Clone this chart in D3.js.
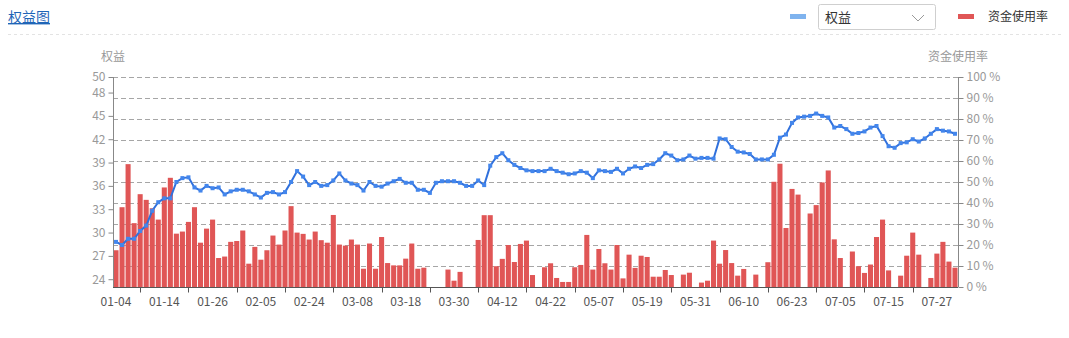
<!DOCTYPE html>
<html>
<head>
<meta charset="utf-8">
<script src="https://cdn.jsdelivr.net/npm/d3@7"></script>
<style>
  body { margin: 0; background: #fff; }
  text { font-family: "Microsoft YaHei", "Noto Sans CJK SC", sans-serif; }
</style>
</head>
<body>
<div class="equity-chart"></div>
<script>
const dates = [
  "01-04","01-05","01-06","01-07","01-08","01-11","01-12","01-13","01-14","01-15",
  "01-18","01-19","01-20","01-21","01-22","01-25","01-26","01-27","01-28","01-29",
  "02-01","02-02","02-03","02-04","02-05","02-08","02-09","02-10","02-18","02-19",
  "02-22","02-23","02-24","02-25","02-26",
  "03-01","03-02","03-03","03-04","03-05","03-08","03-09","03-10","03-11","03-12",
  "03-15","03-16","03-17","03-18","03-19","03-22","03-23","03-24","03-25","03-26",
  "03-29","03-30","03-31",
  "04-01","04-02","04-06","04-07","04-08","04-09","04-12","04-13","04-14","04-15",
  "04-16","04-19","04-20","04-21","04-22","04-23","04-26","04-27","04-28","04-29","04-30",
  "05-06","05-07","05-10","05-11","05-12","05-13","05-14","05-17","05-18","05-19",
  "05-20","05-21","05-24","05-25","05-26","05-27","05-28","05-31",
  "06-01","06-02","06-03","06-04","06-07","06-08","06-09","06-10","06-11","06-15",
  "06-16","06-17","06-18","06-21","06-22","06-23","06-24","06-25","06-28","06-29","06-30",
  "07-01","07-02","07-05","07-06","07-07","07-08","07-09","07-12","07-13","07-14",
  "07-15","07-16","07-19","07-20","07-21","07-22","07-23","07-26","07-27","07-28",
  "07-29","07-30"
];

// 资金使用率 (%)
const usage = [
  17.5, 38, 58.5, 30.4, 44.2, 41.5, 37.5, 32.1, 47.4, 52,
  25.4, 26.4, 31, 38, 21.1, 27.8, 32.1, 13.8, 14.5, 21.5,
  21.9, 26.9, 11.1, 19.1, 13, 17.5, 24.5, 20.2, 26.9, 38.5,
  25.9, 25.3, 22.6, 26.4, 22.3, 21.1, 34.3, 20.2, 19.7, 22.6,
  20.2, 8.7, 20.7, 8.7, 23.8, 11.4, 10.3, 10.3, 13.5, 20.7,
  8.7, 9.2, 0, 0, 0, 8.3, 3, 7.2, 0, 0,
  22.4, 34.2, 34.2, 9.9, 13.4, 20, 11.9, 20.5, 22.1, 5.7,
  0, 9.4, 11.3, 4.3, 2.4, 2.4, 9.4, 10.5, 24.8, 8.3,
  18.1, 11.3, 8.3, 20, 4.1, 15.4, 9.1, 14.9, 14.3, 4.9,
  4.9, 8.1, 5.7, 0, 5.9, 6.8, 0, 2.1, 3, 22.1,
  11.1, 17.6, 11.4, 5.4, 8.6, 0, 5.9, 0, 11.8, 50.1,
  58.7, 28.1, 46.7, 44, 0, 35, 39, 49.8, 55.5, 22.7,
  13.8, 0, 16.9, 9.9, 6.7, 10.7, 23.8, 32.1, 7.9, 0,
  5.4, 14.9, 25.9, 15.4, 0, 4.3, 15.9, 21.5, 12.1, 9.2
];

// 权益
const equity = [
  28.8, 28.4, 29.2, 29.2, 30.2, 30.9, 32.8, 33.9, 34.4, 34.4,
  36.5, 37.0, 37.1, 35.8, 35.4, 36.0, 35.7, 35.8, 34.9, 35.3,
  35.5, 35.5, 35.3, 34.9, 34.5, 35.1, 35.2, 34.9, 35.2, 36.5,
  37.9, 37.2, 36.1, 36.5, 36.0, 36.1, 36.7, 37.6, 36.7, 36.3,
  36.1, 35.4, 36.5, 36.0, 35.9, 36.3, 36.6, 36.9, 36.4, 36.4,
  35.5, 35.5, 35.1, 36.4, 36.6, 36.6, 36.6, 36.4, 36.0, 36.0,
  36.7, 36.1, 38.6, 39.7, 40.2, 39.3, 38.7, 38.3, 38.0, 37.9,
  37.9, 37.9, 38.2, 37.9, 37.7, 37.5, 37.6, 37.9, 37.7, 37.0,
  38.0, 37.9, 37.8, 38.2, 37.6, 38.2, 38.5, 38.3, 38.7, 38.8,
  39.4, 40.2, 39.9, 39.3, 39.4, 39.9, 39.5, 39.6, 39.6, 39.5,
  42.1, 42.0, 41.0, 40.4, 40.3, 40.1, 39.4, 39.4, 39.4, 40.0,
  42.2, 42.6, 44.1, 44.8, 44.9, 45.0, 45.3, 45.0, 44.8, 43.5,
  43.7, 43.3, 42.7, 42.8, 43.0, 43.5, 43.7, 42.4, 41.1, 40.9,
  41.5, 41.6, 42.0, 41.7, 42.1, 42.7, 43.3, 43.1, 43.0, 42.7
];

const leftTicks = [24, 27, 30, 33, 36, 39, 42, 45, 48, 50];
const rightTicks = [0, 10, 20, 30, 40, 50, 60, 70, 80, 90, 100];

const width = 1069;
const height = 338;
const plotLeft = 113, plotRight = 958, plotTop = 77, plotBottom = 287;

const svg = d3
  .select(".equity-chart")
  .append("svg")
  .attr("width", width)
  .attr("height", height);

// header
svg.append("text")
  .attr("x", 8)
  .attr("y", 22)
  .attr("font-size", 14)
  .attr("fill", "#1f65b7")
  .attr("text-decoration", "underline")
  .text("权益图");

svg.append("line")
  .attr("x1", 8).attr("x2", 1062)
  .attr("y1", 34.5).attr("y2", 34.5)
  .attr("stroke", "#e3e3e3")
  .attr("stroke-dasharray", "3,3");

// legend
svg.append("rect").attr("x", 790).attr("y", 14).attr("width", 16).attr("height", 5).attr("fill", "#7fb3ee");
svg.append("rect")
  .attr("x", 818.5).attr("y", 4.5).attr("width", 117).attr("height", 25)
  .attr("rx", 2)
  .attr("fill", "#fff")
  .attr("stroke", "#cfcfcf");
svg.append("text").attr("x", 825).attr("y", 22).attr("font-size", 13).attr("fill", "#333").text("权益");
svg.append("polyline")
  .attr("points", "912,15 918,21 924,15")
  .attr("fill", "none")
  .attr("stroke", "#999")
  .attr("stroke-width", 1);
svg.append("rect").attr("x", 958).attr("y", 14).attr("width", 16).attr("height", 5).attr("fill", "#e05656");
svg.append("text").attr("x", 988).attr("y", 21).attr("font-size", 12).attr("fill", "#333").text("资金使用率");

// scales
const x = d3.scaleBand()
  .domain(dates)
  .range([plotLeft, plotRight])
  .paddingInner(0.16)
  .paddingOuter(0.08);

const yLeft = d3.scaleLinear().domain([23, 50]).range([plotBottom, plotTop]);
const yRight = d3.scaleLinear().domain([0, 100]).range([plotBottom, plotTop]);
const cx = (d) => x(d) + x.bandwidth() / 2;

// grid from right axis
svg.append("g")
  .selectAll("line")
  .data(rightTicks.filter((d) => d > 0))
  .enter()
  .append("line")
  .attr("x1", plotLeft)
  .attr("x2", plotRight)
  .attr("y1", (d) => Math.round(yRight(d)) + 0.5)
  .attr("y2", (d) => Math.round(yRight(d)) + 0.5)
  .attr("stroke", "#a6a6a6")
  .attr("stroke-dasharray", "5,3");

// bars
svg.append("g")
  .selectAll("rect")
  .data(dates)
  .enter()
  .append("rect")
  .attr("x", (d) => x(d))
  .attr("y", (d, i) => yRight(usage[i]))
  .attr("width", x.bandwidth())
  .attr("height", (d, i) => plotBottom - yRight(usage[i]))
  .attr("fill", "#e05656");

// equity line
const line = d3.line()
  .x((d, i) => cx(dates[i]))
  .y((d) => yLeft(d));

svg.append("path")
  .datum(equity)
  .attr("d", line)
  .attr("fill", "none")
  .attr("stroke", "#3070dc")
  .attr("stroke-width", 2);

svg.append("g")
  .selectAll("rect")
  .data(equity)
  .enter()
  .append("rect")
  .attr("x", (d, i) => cx(dates[i]) - 2)
  .attr("y", (d) => yLeft(d) - 2)
  .attr("width", 4)
  .attr("height", 4)
  .attr("fill", "#4386ec");

// left axis
const axL = svg.append("g")
  .attr("transform", `translate(${plotLeft + 0.5},0)`)
  .call(d3.axisLeft(yLeft).tickValues(leftTicks).tickSize(5).tickPadding(3));
axL.select(".domain").attr("stroke", "#888").attr("d", `M0,${plotTop}V${plotBottom}`);
axL.selectAll(".tick line").attr("stroke", "#888");
axL.selectAll(".tick text").attr("fill", "#999").attr("font-size", 12).attr("font-family", null);

// right axis
const axR = svg.append("g")
  .attr("transform", `translate(${plotRight + 0.5},0)`)
  .call(d3.axisRight(yRight).tickValues(rightTicks).tickSize(5).tickPadding(3).tickFormat((d) => d + " %"));
axR.select(".domain").attr("stroke", "#888").attr("d", `M0,${plotTop}V${plotBottom}`);
axR.selectAll(".tick line").attr("stroke", "#888");
axR.selectAll(".tick text").attr("fill", "#999").attr("font-size", 12).attr("font-family", null);

// x axis
const xg = svg.append("g").attr("transform", `translate(0,${plotBottom + 0.5})`);
xg.append("line")
  .attr("x1", plotLeft).attr("x2", plotRight)
  .attr("stroke", "#555");
xg.selectAll("line.tick")
  .data(dates.filter((d, i) => i % 8 === 4))
  .enter()
  .append("line")
  .attr("class", "tick")
  .attr("x1", (d) => Math.round(cx(d)) + 0.5)
  .attr("x2", (d) => Math.round(cx(d)) + 0.5)
  .attr("y1", 0)
  .attr("y2", 5)
  .attr("stroke", "#555");
xg.selectAll("text")
  .data(dates.filter((d, i) => i % 8 === 0))
  .enter()
  .append("text")
  .attr("x", (d) => cx(d))
  .attr("y", 18)
  .attr("text-anchor", "middle")
  .attr("font-size", 12)
  .attr("fill", "#555")
  .text((d) => d);

// axis names
svg.append("text")
  .attr("x", plotLeft).attr("y", 61)
  .attr("text-anchor", "middle")
  .attr("font-size", 12)
  .attr("fill", "#999")
  .text("权益");
svg.append("text")
  .attr("x", plotRight).attr("y", 61)
  .attr("text-anchor", "middle")
  .attr("font-size", 12)
  .attr("fill", "#999")
  .text("资金使用率");
</script>
</body>
</html>
